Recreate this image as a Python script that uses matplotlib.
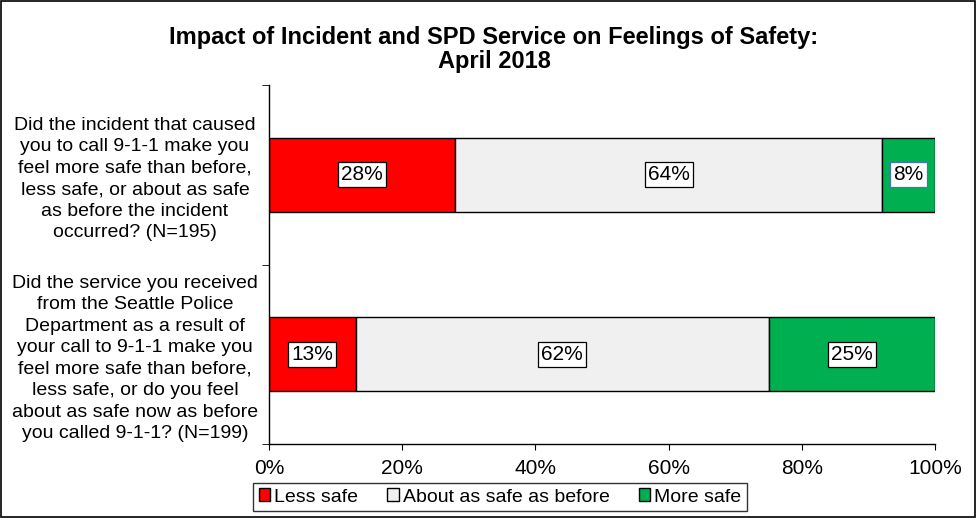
import matplotlib.pyplot as plt
import numpy as np

plt.rcParams['font.family'] = ['Liberation Sans', 'DejaVu Sans']

questions = [
    "Did the incident that caused\nyou to call 9-1-1 make you\nfeel more safe than before,\nless safe, or about as safe\nas before the incident\noccurred? (N=195)",
    "Did the service you received\nfrom the Seattle Police\nDepartment as a result of\nyour call to 9-1-1 make you\nfeel more safe than before,\nless safe, or do you feel\nabout as safe now as before\nyou called 9-1-1? (N=199)",
]
series = ["Less safe", "About as safe as before", "More safe"]
less_safe = [28, 13]
about_same = [64, 62]
more_safe = [8, 25]
colors = ["#ff0000", "#f0f0f0", "#00b050"]

fig = plt.figure(figsize=(9.77, 5.18), dpi=100)
ax = fig.add_axes([269/977, 1 - 444/518, 666/977, 359/518])

y = np.arange(len(questions))
left = np.zeros(len(questions))
for name, vals, c in zip(series, [less_safe, about_same, more_safe], colors):
    bars = ax.barh(y, vals, left=left, height=0.41, color=c, edgecolor='black',
                   linewidth=1.0, label=name)
    for b, v in zip(bars, vals):
        ec = '#4472c4' if v == 8 else 'black'
        ax.text(b.get_x() + b.get_width() / 2, b.get_y() + b.get_height() / 2,
                f"{v}%", ha='center', va='center', fontsize=15,
                bbox=dict(boxstyle='square,pad=0.15', fc='white', ec=ec, lw=0.9))
    left += np.array(vals)

ax.set_xlim(0, 100)
ax.set_ylim(1.5, -0.5)
ax.set_xticks(np.arange(0, 101, 20))
ax.set_xticklabels([f"{t}%" for t in range(0, 101, 20)], fontsize=15)
ax.tick_params(axis='x', length=4, direction='out', pad=7)

ax.set_yticks(y)
ax.set_yticklabels(questions, fontsize=14, ha='center', multialignment='center',
                   linespacing=1.34)
ax.tick_params(axis='y', which='major', length=0, pad=134 * 0.72)
ax.set_yticks([-0.5, 0.5, 1.5], minor=True)
ax.tick_params(axis='y', which='minor', length=5, direction='out')

for s in ['top', 'right']:
    ax.spines[s].set_visible(False)
for s in ['left', 'bottom']:
    ax.spines[s].set_linewidth(1.0)

fig.suptitle("Impact of Incident and SPD Service on Feelings of Safety:\nApril 2018",
             x=494/977, y=1 - 26/518, fontsize=17, fontweight='bold', linespacing=1.05)

leg = fig.legend(loc='center', bbox_to_anchor=(500/977, 1 - 497/518), ncol=3, fontsize=14,
                 frameon=True, fancybox=False, edgecolor='black', handlelength=0.6,
                 handleheight=0.6, handletextpad=0.2, columnspacing=1.5, borderpad=0.3)
leg.get_frame().set_linewidth(1.0)

fig.patches.append(plt.Rectangle((0.001, 0.001), 0.997, 0.997, transform=fig.transFigure,
                                 fill=False, ec='black', lw=1.2))

fig.savefig('out.png', dpi=100)
